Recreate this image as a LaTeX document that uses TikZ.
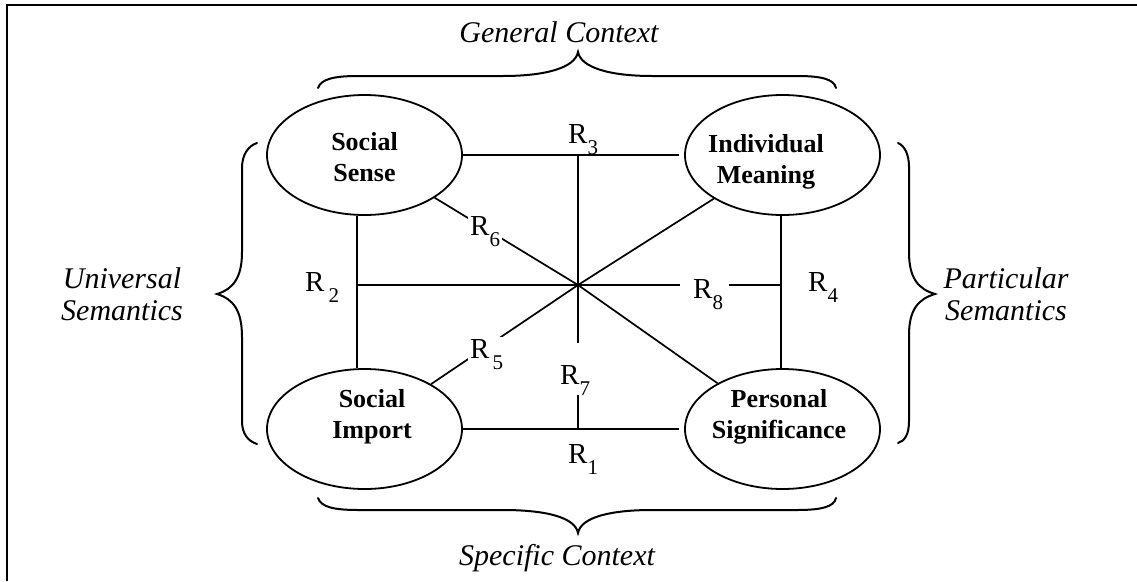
\documentclass[tikz,border=0pt]{standalone}
\usepackage{fontspec}
\setmainfont{Liberation Serif}
\usetikzlibrary{shapes.geometric}
\newcommand\Rsub[2][0pt]{R\hspace{#1}\raisebox{-11pt}{\fontsize{21}{21}\selectfont #2}}
\newcommand\twolines[2]{\rule{0pt}{0.8em}#1\\#2\rule[-0.4em]{0pt}{0.4em}}
\begin{document}
\begin{tikzpicture}[x=1pt,y=-1pt,
  ell/.style={draw, ellipse, line width=1.8pt, minimum width=195pt, minimum height=120pt, inner sep=0pt},
  conn/.style={line width=1.7pt},
  brace/.style={line width=2pt, line cap=round},
  btext/.style={font=\bfseries\fontsize{26}{31}\selectfont, align=center, inner sep=0pt},
  itext/.style={font=\itshape\fontsize{30}{32}\selectfont, align=center, inner sep=0pt},
  rlab/.style={font=\fontsize{29}{30}\selectfont, inner sep=0pt, anchor=base west},
  rgap/.style={rlab, fill=white, inner sep=2pt}]
\useasboundingbox (0,0) rectangle (1137,581);
\draw[line width=2.2pt] (7,581) -- (7,5) -- (1137,5);
% ellipses
\node[ell] (ss) at (364.5,155) {};
\node[ell] (im) at (782.5,155) {};
\node[ell] (si) at (364.5,429) {};
\node[ell] (ps) at (782.5,429) {};
% ellipse texts
\node[btext] (sst) at (364.5,160.5) {\twolines{Social}{Sense}};
\node[btext] (imt) at (766,162.5) {\twolines{Individual}{Meaning}};
\node[btext] (sit) at (372,417.5) {\twolines{Social}{Import}};
\node[btext] (pst) at (779,417.5) {\twolines{Personal}{Significance}};
% outer labels
\node[itext] (us) at (122,298) {\twolines{Universal}{Semantics}};
\node[itext] (pa) at (1006,298) {\twolines{Particular}{Semantics}};
\node[itext, anchor=base] (gc) at (559,42) {General Context};
\node[itext, anchor=base] (sc) at (557,565) {Specific Context};
% braces
\draw[brace] (318,88) .. controls (321,79) and (334,76) .. (358,76) -- (503,76)
  .. controls (545,76) and (575,68) .. (578,52)
  .. controls (581,68) and (611,76) .. (652,76) -- (797,76)
  .. controls (821,76) and (834,79) .. (836,88);
\draw[brace] (318,498) .. controls (321,507) and (334,510) .. (358,510) -- (503,510)
  .. controls (545,510) and (575,517) .. (578,533)
  .. controls (581,517) and (611,510) .. (652,510) -- (797,510)
  .. controls (821,510) and (834,507) .. (836,498);
\draw[brace] (257,143) .. controls (248,146) and (242,155) .. (242,168) -- (242,252)
  .. controls (242,278) and (233,289) .. (217,294)
  .. controls (233,299) and (242,310) .. (242,337) -- (242,421)
  .. controls (242,434) and (248,441) .. (257,444);
\draw[brace] (898,143) .. controls (905,146) and (909,155) .. (909,167) -- (909,252)
  .. controls (909,278) and (918,289) .. (935,294)
  .. controls (918,299) and (909,310) .. (909,335) -- (909,421)
  .. controls (909,434) and (905,441) .. (898,443);
% connectors
\coordinate (c) at (578,285);
\draw[conn, shorten >=5pt] (ss.east) -- (im.west);
\draw[conn, shorten >=5pt] (si.east) -- (ps.west);
\draw[conn] ([xshift=-7.5pt]ss.south) -- ([xshift=-7.5pt]si.north);
\draw[conn] ([xshift=-1.5pt]im.south) -- ([xshift=-1.5pt]ps.north);
\draw[conn] (ss) -- (c) -- (ps);
\draw[conn] (si) -- (c) -- (im);
\draw[conn] (c |- ss.east) -- (c |- si.east);
\draw[conn] ([xshift=-7.5pt]ss.south |- c) -- ([xshift=-1.5pt]im.south |- c);
% relation labels
\node[rlab] (r3) at (568,143) {\Rsub{3}};
\node[rlab] (r1) at (568,463) {\Rsub{1}};
\node[rlab] (r2) at (305,291) {\Rsub[4pt]{2}};
\node[rlab] (r4) at (808,291) {\Rsub{4}};
\node[rgap] (r6) at (468,235) {\Rsub{6}};
\node[rgap] (r5) at (468,358) {\Rsub[3pt]{5}};
\node[rlab, fill=white] (r7) at (560,384) {\rule{0pt}{41pt}\Rsub{7}};
\node[rlab, fill=white] (r8) at (680,298) {\hspace*{13pt}\Rsub{8}\hspace*{6pt}};
\end{tikzpicture}
\end{document}
